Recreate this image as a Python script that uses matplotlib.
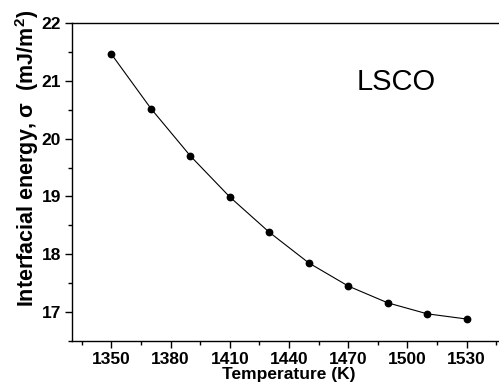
import matplotlib.pyplot as plt
from matplotlib.ticker import MultipleLocator

plt.rcParams['font.family'] = ['Liberation Sans', 'DejaVu Sans']
plt.rcParams['mathtext.fontset'] = 'custom'
plt.rcParams['mathtext.bf'] = 'Liberation Sans:bold'
plt.rcParams['mathtext.rm'] = 'Liberation Sans:bold'
plt.rcParams['mathtext.default'] = 'bf'

# data
temperature = [1350, 1370, 1390, 1410, 1430, 1450, 1470, 1490, 1510, 1530]
sigma = [21.46, 20.52, 19.70, 18.99, 18.38, 17.85, 17.45, 17.16, 16.97, 16.88]

x_ticks = [1350, 1380, 1410, 1440, 1470, 1500, 1530]
y_ticks = [17, 18, 19, 20, 21, 22]

fig = plt.figure(figsize=(4.99, 3.86), dpi=100)
ax = fig.add_axes([0.1443, 0.1166, 0.870, 0.8238])

ax.plot(temperature, sigma, color='black', lw=0.8, marker='o', ms=4.6,
        mfc='black', mec='black')

ax.set_xlim(1330, 1550)
ax.set_ylim(16.5, 22)
ax.set_xticks(x_ticks)
ax.set_yticks(y_ticks)
ax.xaxis.set_minor_locator(MultipleLocator(15))
ax.yaxis.set_minor_locator(MultipleLocator(0.5))

ax.tick_params(which='major', direction='out', length=5, width=1,
               labelsize=12.5, pad=3)
ax.tick_params(which='minor', direction='out', length=3, width=1)
ax.tick_params(top=False, right=False, which='both')
for lab in ax.get_xticklabels() + ax.get_yticklabels():
    lab.set_fontweight('bold')

for sp in ax.spines.values():
    sp.set_linewidth(1)

ax.set_xlabel('Temperature (K)', fontsize=12.5, fontweight='bold', labelpad=0)
ax.set_ylabel('Interfacial energy, σ  (mJ/m$^{2}$)', fontsize=15.5,
              fontweight='bold', labelpad=0.5)
ax.yaxis.label.set_y(0.575)

ax.text(0.747, 0.814, 'LSCO', transform=ax.transAxes, fontsize=21,
        ha='center', va='center')

fig.savefig('out.png', dpi=100)
